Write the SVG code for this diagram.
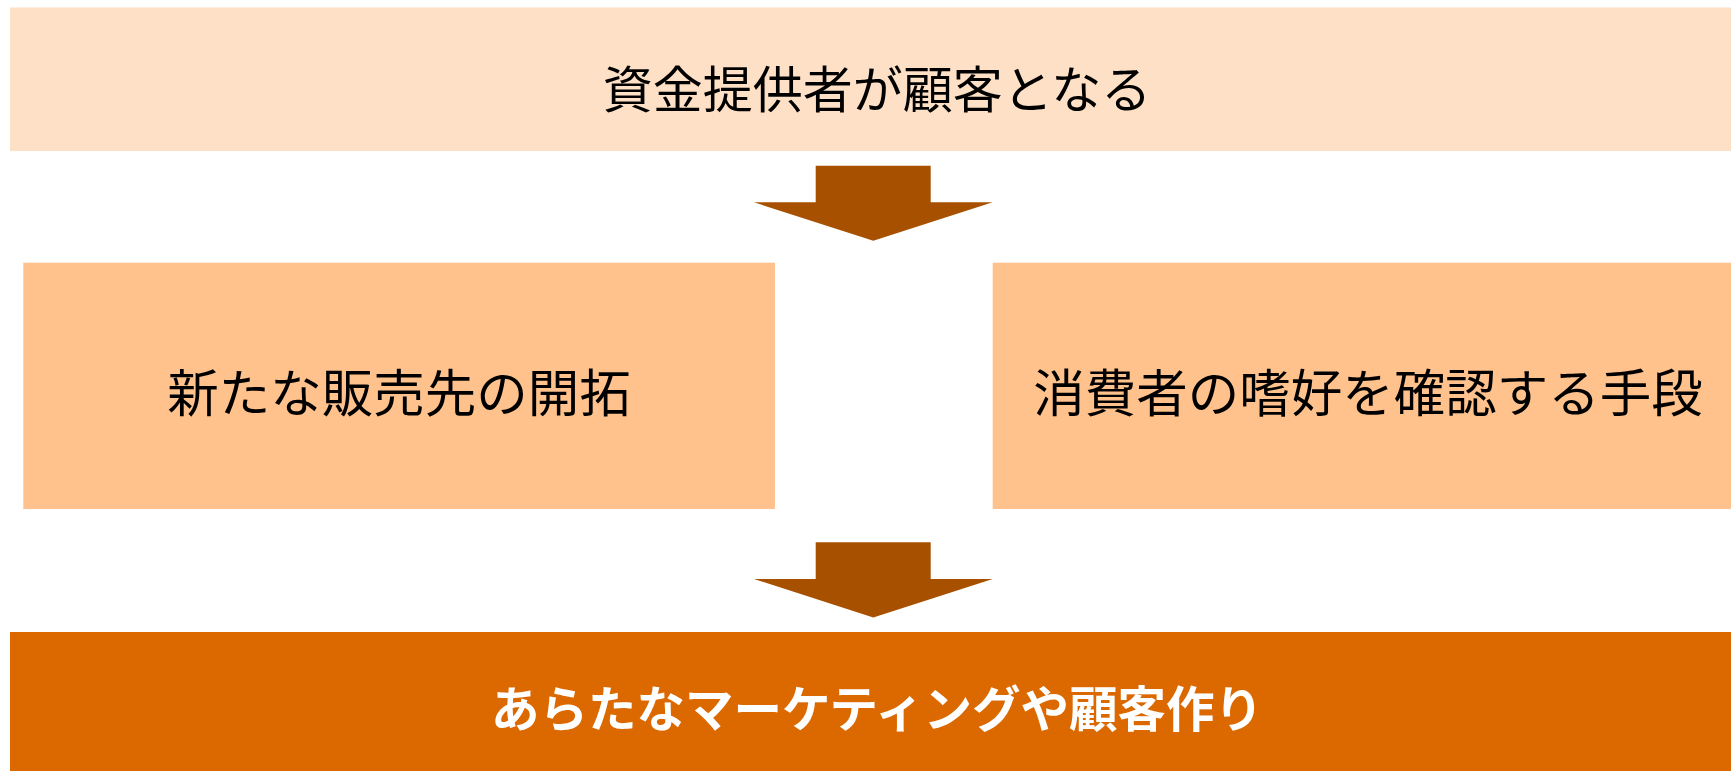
<svg xmlns="http://www.w3.org/2000/svg" width="1731" height="771" viewBox="0 0 1731 771">
<style>
text { font-family: "Noto Sans CJK JP", "Noto Sans", sans-serif; text-anchor: middle; dominant-baseline: central; }
.top { fill: #000000; font-weight: 400; font-size: 50px; }
.mid { fill: #000000; font-weight: 400; font-size: 51.5px; }
.light { fill: #FFFFFF; font-weight: 700; font-size: 48.5px; }
.arrow { fill: #A65000; }
</style>
<rect width="1731" height="771" fill="#FFFFFF"/>
<g id="node-top">
<rect x="10" y="7.5" width="1721" height="143.5" fill="#FEE0C6"/>
<text class="top" x="877" y="86">資金提供者が顧客となる</text>
</g>
<g id="node-left">
<rect x="23.3" y="262.7" width="751.7" height="246.3" fill="#FFC28C"/>
<text class="mid" x="399" y="389">新たな販売先の開拓</text>
</g>
<g id="node-right">
<rect x="992.7" y="262.7" width="738.3" height="246.3" fill="#FFC28C"/>
<text class="mid" x="1368" y="389">消費者の嗜好を確認する手段</text>
</g>
<g id="node-bottom">
<rect x="10" y="632" width="1721" height="139" fill="#DC6800"/>
<text class="light" x="877" y="706">あらたなマーケティングや顧客作り</text>
</g>
<g id="connectors">
<polygon class="arrow" points="815.7,165.7 930.7,165.7 930.7,202.3 992.7,202.3 873.3,240.7 754,202.3 815.7,202.3"/>
<polygon class="arrow" points="815.7,542.3 930.7,542.3 930.7,579 992.7,579 873.3,617.4 754,579 815.7,579"/>
</g>
</svg>
